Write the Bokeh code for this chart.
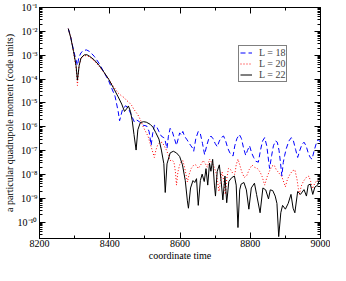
import numpy as np
from bokeh.plotting import figure
from bokeh.models import (Range1d, FixedTicker, CustomJSTickFormatter, LinearAxis,
                          LogAxis, Legend, LegendItem, ColumnDataSource)
from bokeh.embed import file_html
from bokeh.resources import INLINE

# ---- data (time, log10 of moment) ----
t18 = [8282, 8289, 8297, 8304, 8308, 8312, 8318, 8326, 8334, 8343, 8356, 8370, 8383, 8397, 8415, 8424, 8428, 8437, 8446, 8455, 8464, 8470, 8477, 8485, 8495, 8505, 8512, 8518, 8522, 8527, 8533, 8540, 8547, 8554, 8558, 8563, 8567, 8572, 8578, 8583, 8590, 8595, 8599, 8604, 8608, 8613, 8620, 8630, 8636, 8639, 8645, 8652, 8658, 8664, 8670, 8676, 8682, 8688, 8694, 8700, 8706, 8712, 8718, 8724, 8730, 8736, 8742, 8748, 8751, 8756, 8762, 8769, 8775, 8781, 8787, 8792, 8798, 8804, 8810, 8816, 8823, 8829, 8835, 8841, 8847, 8852, 8855, 8861, 8866, 8872, 8877, 8882, 8886, 8890, 8894, 8898, 8903, 8910, 8917, 8923, 8929, 8935, 8941, 8947, 8953, 8959, 8965, 8971, 8976, 8982, 8988, 8994, 9000]
e18 = [-1.89, -2.25, -2.8, -3.2, -3.43, -3.1, -2.9, -2.8, -2.78, -2.85, -3.05, -3.35, -3.7, -4.08, -4.72, -5.36, -5.75, -5.24, -5.12, -5.3, -5.6, -5.8, -5.72, -5.8, -5.94, -5.97, -6.2, -6.78, -6.3, -5.94, -5.98, -6.2, -6.4, -6.46, -6.6, -6.91, -6.4, -6.07, -6.2, -6.45, -6.78, -6.5, -6.26, -6.35, -6.2, -6.4, -6.55, -6.78, -6.9, -7.03, -6.5, -6.2, -6.3, -6.7, -7.17, -6.8, -6.5, -6.39, -6.5, -6.7, -6.84, -6.6, -6.45, -6.39, -6.6, -6.9, -7.1, -7.2, -7.23, -6.8, -6.5, -6.33, -6.5, -6.9, -7.2, -7.0, -6.8, -7.1, -7.3, -7.45, -7.49, -7.0, -6.6, -6.46, -6.8, -7.4, -7.75, -7.2, -6.8, -6.6, -6.65, -7.0, -7.5, -8.07, -7.5, -7.2, -6.9, -6.6, -6.46, -6.6, -6.95, -7.29, -7.0, -6.75, -6.65, -6.8, -7.1, -7.3, -7.36, -7.0, -6.7, -6.52, -6.7]

t20 = [8282, 8290, 8297, 8304, 8308, 8312, 8318, 8327, 8335, 8343, 8356, 8370, 8383, 8397, 8410, 8424, 8433, 8441, 8448, 8455, 8462, 8468, 8473, 8480, 8487, 8495, 8502, 8509, 8515, 8520, 8527, 8531, 8536, 8542, 8549, 8555, 8562, 8567, 8572, 8578, 8583, 8587, 8590, 8594, 8599, 8604, 8608, 8613, 8617, 8621, 8626, 8632, 8639, 8645, 8652, 8659, 8666, 8672, 8678, 8684, 8690, 8696, 8702, 8707, 8711, 8716, 8720, 8725, 8729, 8733, 8738, 8744, 8750, 8756, 8760, 8765, 8770, 8776, 8783, 8790, 8797, 8805, 8812, 8820, 8828, 8834, 8841, 8848, 8855, 8862, 8868, 8874, 8882, 8890, 8896, 8900, 8906, 8913, 8920, 8927, 8933, 8937, 8940, 8945, 8951, 8958, 8967, 8972, 8977, 8983, 8990, 8995, 9000]
e20 = [-1.89, -2.3, -2.88, -3.5, -4.27, -3.5, -3.15, -3.02, -3.02, -3.08, -3.25, -3.47, -3.72, -4.0, -4.3, -4.59, -4.7, -4.78, -4.9, -4.98, -5.1, -5.25, -5.36, -5.5, -5.7, -6.0, -6.2, -6.4, -6.7, -6.95, -7.29, -7.0, -6.78, -6.68, -6.65, -6.8, -7.0, -7.2, -7.42, -7.4, -7.5, -7.9, -8.45, -7.9, -7.6, -7.45, -7.42, -7.7, -8.0, -8.32, -8.0, -7.75, -7.61, -7.6, -7.75, -7.6, -7.42, -7.55, -7.7, -7.36, -7.5, -7.65, -7.9, -8.3, -8.71, -8.2, -7.9, -8.3, -8.84, -8.2, -7.75, -7.8, -7.95, -8.0, -7.6, -7.36, -7.6, -7.9, -8.13, -8.05, -7.8, -7.61, -7.7, -7.75, -7.9, -8.1, -8.45, -8.1, -7.85, -7.65, -7.61, -7.8, -7.95, -8.1, -8.35, -8.52, -8.2, -8.0, -7.85, -7.81, -8.2, -8.6, -8.84, -8.5, -8.3, -8.15, -8.07, -8.3, -8.6, -8.4, -8.25, -8.3, -8.26]

t22 = [8282, 8289, 8297, 8304, 8308, 8313, 8318, 8327, 8335, 8343, 8356, 8370, 8383, 8397, 8410, 8424, 8434, 8442, 8448, 8453, 8459, 8464, 8469, 8475, 8480, 8487, 8496, 8504, 8515, 8523, 8531, 8540, 8547, 8554, 8558, 8563, 8572, 8581, 8590, 8599, 8607, 8615, 8621, 8624, 8630, 8637, 8642, 8647, 8652, 8658, 8663, 8669, 8674, 8679, 8684, 8688, 8693, 8698, 8701, 8706, 8712, 8717, 8722, 8728, 8733, 8739, 8747, 8755, 8760, 8765, 8770, 8774, 8782, 8789, 8796, 8803, 8812, 8818, 8828, 8836, 8844, 8852, 8857, 8864, 8871, 8876, 8881, 8887, 8892, 8900, 8908, 8916, 8922, 8927, 8935, 8943, 8953, 8960, 8965, 8971, 8978, 8984, 8992, 9000]
e22 = [-1.89, -2.27, -2.85, -3.43, -4.05, -3.43, -3.12, -2.99, -2.98, -3.05, -3.2, -3.43, -3.70, -4.01, -4.36, -4.75, -5.05, -5.36, -5.25, -5.13, -5.36, -5.75, -6.33, -6.98, -6.13, -5.83, -5.79, -5.81, -5.9, -6.02, -6.25, -6.52, -6.98, -7.55, -8.76, -7.56, -7.10, -7.03, -7.10, -7.25, -7.6, -8.26, -9.11, -9.42, -8.57, -8.26, -8.34, -8.18, -9.3, -8.26, -7.99, -8.3, -7.76, -8.45, -7.53, -7.87, -7.37, -8.45, -8.91, -7.87, -7.6, -8.26, -9.07, -8.07, -9.19, -8.3, -8.14, -8.07, -8.45, -10.23, -8.65, -8.41, -8.34, -8.65, -9.46, -8.57, -8.37, -8.84, -9.61, -8.57, -8.65, -9.03, -8.65, -8.68, -8.91, -9.22, -10.61, -9.61, -9.3, -9.46, -9.22, -8.84, -9.42, -9.61, -8.72, -8.84, -8.64, -8.91, -8.45, -8.41, -8.84, -8.53, -8.45, -8.07]

labels = ["L = 18", "L = 20", "L = 22"]
x_title = "coordinate time"
y_title = "a particular quadrupole moment (code units)"
x_major = [8200, 8400, 8600, 8800, 9000]
x_minor = [8300, 8500, 8700, 8900]
y_exponents = list(range(-10, 0))
x_lo, x_hi = 8200, 9000
y_lo_exp, y_hi_exp = -10.69, -1

FONT = "Liberation Serif"

p = figure(width=330, height=265, output_backend="svg", toolbar_location=None,
           y_axis_type="log",
           x_range=Range1d(x_lo, x_hi), y_range=Range1d(10 ** y_lo_exp, 10 ** y_hi_exp),
           min_border_left=37, min_border_right=10, min_border_top=7, min_border_bottom=27)
p.xgrid.visible = False
p.ygrid.visible = False
p.outline_line_color = "black"
p.outline_line_width = 1
p.background_fill_color = "white"
p.border_fill_color = "white"

colors = ["#0000ff", "#ff0000", "#000000"]
dashes = ["5 3", "1 2", "solid"]
series = [(t18, e18), (t20, e20), (t22, e22)]
renderers = []
for (t, e), c, d in zip(series, colors, dashes):
    src = ColumnDataSource(dict(t=t, v=10 ** np.array(e)))
    r = p.line("t", "v", source=src, line_color=c, line_dash=d, line_width=1)
    renderers.append(r)

y_major = [10.0 ** k for k in y_exponents]
y_minor = [m * 10.0 ** k for k in range(-11, -1) for m in range(2, 10)]

sup_code = """
const e = Math.round(Math.log10(tick));
const s = {'-':'\u207b','0':'\u2070','1':'\u00b9','2':'\u00b2','3':'\u00b3','4':'\u2074','5':'\u2075','6':'\u2076','7':'\u2077','8':'\u2078','9':'\u2079'};
return '10' + String(e).split('').map(c => s[c]).join('');
"""

def style(ax, ticker):
    ax.ticker = ticker
    ax.major_tick_in = 6
    ax.major_tick_out = 0
    ax.minor_tick_in = 3
    ax.minor_tick_out = 0
    ax.axis_line_color = "black"
    ax.major_tick_line_color = "black"
    ax.minor_tick_line_color = "black"
    ax.major_label_text_font = FONT
    ax.major_label_text_font_size = "10px"
    ax.major_label_text_color = "black"
    ax.axis_label_text_font = FONT
    ax.axis_label_text_font_size = "10px"
    ax.axis_label_text_font_style = "normal"
    ax.axis_label_text_color = "black"

xa = p.xaxis[0]
style(xa, FixedTicker(ticks=x_major, minor_ticks=x_minor))
xa.axis_label = x_title
xa.major_label_standoff = 1
xa.axis_label_standoff = 0

ya = p.yaxis[0]
style(ya, FixedTicker(ticks=y_major, minor_ticks=y_minor))
ya.formatter = CustomJSTickFormatter(code=sup_code)
ya.axis_label = y_title
ya.major_label_standoff = 2
ya.axis_label_standoff = 0

top = LinearAxis()
style(top, FixedTicker(ticks=x_major, minor_ticks=x_minor))
top.formatter = CustomJSTickFormatter(code="return '';")
top.major_label_standoff = 0
top.major_label_text_font_size = "0px"
p.add_layout(top, "above")

right = LogAxis()
style(right, FixedTicker(ticks=y_major, minor_ticks=y_minor))
right.formatter = CustomJSTickFormatter(code="return '';")
right.major_label_standoff = 0
right.major_label_text_font_size = "0px"
p.add_layout(right, "right")

legend = Legend(items=[LegendItem(label=l, renderers=[r]) for l, r in zip(labels, renderers)],
                location=(199, 156), orientation="vertical",
                label_text_font=FONT, label_text_font_size="10px",
                glyph_width=12, glyph_height=9, label_height=9, label_standoff=7,
                spacing=0, padding=1, margin=0,
                border_line_color="black", border_line_width=1,
                background_fill_color="white", background_fill_alpha=1)
p.add_layout(legend)

open("out.html", "w").write(file_html(p, INLINE))
